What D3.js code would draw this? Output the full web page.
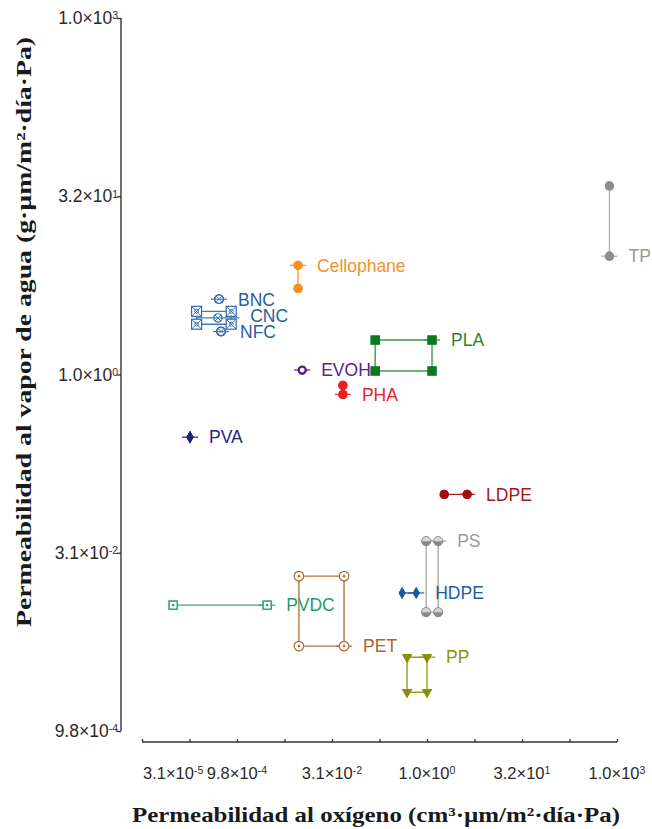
<!DOCTYPE html>
<meta charset="utf-8">
<style>
body { margin: 0; background: #fff; }
svg { display: block; }
.tick-label { font-family: "Liberation Sans", Arial, sans-serif; font-size: 17.5px; fill: #2a2a2a; }
.tick-label.xt { font-size: 16.5px; }
.axis-title { font-family: "Liberation Serif", "DejaVu Serif", serif; font-weight: bold; font-size: 22px; fill: #1a1a1a; }
.mat-label { font-family: "Liberation Sans", Arial, sans-serif; font-size: 17.5px; }
</style>
<body>
<div id="chart"></div>
<script src="https://cdn.jsdelivr.net/npm/d3@7"></script>
<script>

// materials and their ranges (oxygen permeability on x, water vapour on y)
var materials  = ["TPS", "Cellophane", "BNC", "CNC", "NFC", "EVOH", "PHA", "PLA", "PVA", "LDPE", "PS", "HDPE", "PVDC", "PET", "PP"];
var oxygenLow  = [760, 0.0092, 5.2e-4, 2.3e-4, 5.6e-4, 0.0107, 0.047, 0.152, 1.81e-4, 1.87, 0.97, 0.405, 9.8e-5, 0.0095, 0.485];
var oxygenHigh = [760, 0.0092, 5.2e-4, 8.1e-4, 5.6e-4, 0.0107, 0.047, 1.2, 1.81e-4, 4.3, 1.5, 0.675, 2.99e-3, 0.049, 1.0];
var waterLow   = [9.9, 5.3, 4.3, 2.65, 2.3, 1.09, 0.68, 1.07, 0.297, 0.098, 0.010, 0.0145, 0.01146, 0.00518, 0.00212];
var waterHigh  = [38.6, 8.3, 4.3, 3.4, 2.3, 1.09, 0.81, 1.95, 0.297, 0.098, 0.0396, 0.0145, 0.01146, 0.0201, 0.00418];

// CNC centre value drawn inside its range box
var cncCentreOxygen = 5.0e-4;
var cncCentreWater = 2.99;

// tick labels
var xTickValues = [3.162e-5, 1e-3, 3.162e-2, 1, 31.62, 1000];
var xTickMant   = ["3.1", "9.8", "3.1", "1.0", "3.2", "1.0"];
var xTickExp    = ["-5", "-4", "-2", "0", "1", "3"];
var yTickValues = [1e-3, 3.162e-2, 1, 31.62, 1000];
var yTickMant   = ["9.8", "3.1", "1.0", "3.2", "1.0"];
var yTickExp    = ["-4", "-2", "0", "1", "3"];

// look of each material
var styles = {
  TPS:        {color: "#8d8d8d", line: "#b0b0b0", marker: "dot",         text: "#9a9a9a", at: "low"},
  Cellophane: {color: "#f5901e", line: "#f5a040", marker: "dot",         text: "#f2922a", at: "high"},
  BNC:        {color: "#2f6aaa", line: "#3f7ab8", marker: "hatchCircle", text: "#275f9f", at: "low"},
  CNC:        {color: "#2f6aaa", line: "#3f7ab8", marker: "hatchSquare", text: "#275f9f", at: "centre"},
  NFC:        {color: "#2f6aaa", line: "#3f7ab8", marker: "hatchCircle", text: "#275f9f", at: "low"},
  EVOH:       {color: "#5a1d92", line: "#6a2da2", marker: "ring",        text: "#5a1d92", at: "low"},
  PHA:        {color: "#ee1c25", line: "#ee3c40", marker: "dot",         text: "#ea2228", at: "low"},
  PLA:        {color: "#0b7a1e", line: "#3c9c4a", marker: "square",      text: "#1d8a2e", at: "high"},
  PVA:        {color: "#1b2378", line: "#2b3388", marker: "diamond",     text: "#1d257e", at: "low"},
  LDPE:       {color: "#a3100f", line: "#a82020", marker: "dot",         text: "#a41818", at: "low"},
  PS:         {color: "#8a8a8a", line: "#aaaaaa", marker: "halfDot",     text: "#9a9a9a", at: "high"},
  HDPE:       {color: "#1d5898", line: "#2d68a8", marker: "diamond",     text: "#1f5c9e", at: "low"},
  PVDC:       {color: "#1f9c6c", line: "#35ab80", marker: "boxDot",      text: "#1f9c6c", at: "low"},
  PET:        {color: "#b2682c", line: "#b8743c", marker: "ringDot",     text: "#ae662c", at: "low"},
  PP:         {color: "#8a8f08", line: "#99a020", marker: "triDown",     text: "#8e9400", at: "high"}
};

var width = 652, height = 829;
var x = d3.scaleLog().domain([3.162e-5, 1000]).range([142, 617]);
var y = d3.scaleLog().domain([1e-3, 1000]).range([731, 18]);

var svg = d3.select("#chart").append("svg")
  .attr("width", width)
  .attr("height", height);

// ---- axes ----
var yAxis = svg.append("g").attr("transform", "translate(121,0)")
  .call(d3.axisLeft(y).tickValues(yTickValues).tickSize(4).tickFormat(""));
var xAxis = svg.append("g").attr("transform", "translate(0,742)")
  .call(d3.axisTop(x).tickValues(d3.range(-4.5, 3.01, 0.75).map(function(e){ return Math.pow(10, e); })).tickSize(3).tickFormat(""));
[yAxis, xAxis].forEach(function(a){
  a.selectAll("path,line").attr("stroke", "#333").attr("stroke-width", 1.3);
  a.select(".domain").attr("d", null);
});
yAxis.append("line").attr("x1", 0).attr("x2", 0).attr("y1", y(1000)).attr("y2", y(1e-3)).attr("stroke", "#333").attr("stroke-width", 1.4);
xAxis.append("line").attr("x1", x(3.162e-5)).attr("x2", x(1000)).attr("y1", 0).attr("y2", 0).attr("stroke", "#333").attr("stroke-width", 1.4);

function sciLabel(sel, mant, exp) {
  sel.append("tspan").text(mant + "\u00d710");
  sel.append("tspan").attr("dy", "-0.45em").attr("font-size", "10.5px").text(exp);
}

yTickValues.forEach(function(v, i){
  var t = svg.append("text").attr("class", "tick-label")
    .attr("x", 118).attr("y", y(v) + 6).attr("text-anchor", "end");
  sciLabel(t, yTickMant[i], yTickExp[i]);
});
xTickValues.forEach(function(v, i){
  var t = svg.append("text").attr("class", "tick-label xt")
    .attr("x", i === 0 ? x(v) + 1 : x(v)).attr("y", 779)
    .attr("text-anchor", i === 0 ? "start" : "middle");
  sciLabel(t, xTickMant[i], xTickExp[i]);
});

svg.append("text").attr("class", "axis-title")
  .attr("x", 376).attr("y", 822).attr("text-anchor", "middle")
  .attr("textLength", 488).attr("lengthAdjust", "spacingAndGlyphs")
  .text("Permeabilidad al oxígeno (cm³·µm/m²·día·Pa)");
svg.append("text").attr("class", "axis-title")
  .attr("transform", "translate(31,332) rotate(-90)")
  .attr("text-anchor", "middle")
  .attr("textLength", 590).attr("lengthAdjust", "spacingAndGlyphs")
  .text("Permeabilidad al vapor de agua (g·µm/m²·día·Pa)");

// ---- markers ----
function drawMarker(g, type, c) {
  if (type === "dot") {
    g.append("circle").attr("r", 4.6).attr("fill", c);
  } else if (type === "ring") {
    g.append("circle").attr("r", 3.4).attr("fill", "#fff").attr("stroke", c).attr("stroke-width", 2);
  } else if (type === "square") {
    g.append("rect").attr("x", -4.8).attr("y", -4.8).attr("width", 9.6).attr("height", 9.6).attr("fill", c);
  } else if (type === "diamond") {
    g.append("path").attr("d", d3.symbol(d3.symbolDiamond, 42)()).attr("fill", c);
  } else if (type === "triDown") {
    g.append("path").attr("d", d3.symbol(d3.symbolTriangle, 50)()).attr("transform", "rotate(180)").attr("fill", c);
  } else if (type === "halfDot") {
    g.append("circle").attr("r", 4.6).attr("fill", "#d6d6d6").attr("stroke", c).attr("stroke-width", 1);
    g.append("path").attr("d", "M-4.6,0A4.6,4.6 0 0 0 4.6,0Z").attr("fill", c);
  } else if (type === "hatchCircle") {
    g.append("circle").attr("r", 4.2).attr("fill", "#fff").attr("stroke", c).attr("stroke-width", 1.2);
    g.append("path").attr("d", "M-3,-3L3,3M-3,3L3,-3M-4,0L4,0").attr("stroke", c).attr("stroke-width", 0.9);
  } else if (type === "hatchSquare") {
    g.append("rect").attr("x", -5).attr("y", -5).attr("width", 10).attr("height", 10)
      .attr("fill", "#fff").attr("stroke", c).attr("stroke-width", 1.2);
    g.append("path").attr("d", "M-5,-5L5,5M-5,5L5,-5").attr("stroke", c).attr("stroke-width", 0.9);
    g.append("circle").attr("r", 2).attr("fill", "none").attr("stroke", c).attr("stroke-width", 0.8);
  } else if (type === "boxDot") {
    g.append("rect").attr("x", -4).attr("y", -4).attr("width", 8).attr("height", 8)
      .attr("fill", "#fff").attr("stroke", c).attr("stroke-width", 1.2);
    g.append("circle").attr("r", 1.2).attr("fill", c);
  } else if (type === "ringDot") {
    g.append("circle").attr("r", 4.8).attr("fill", "#fff").attr("stroke", c).attr("stroke-width", 1.2);
    g.append("circle").attr("r", 1.3).attr("fill", c);
  }
}

var plot = svg.append("g");

materials.forEach(function(m, i){
  var s = styles[m];
  var x0 = x(oxygenLow[i]), x1 = x(oxygenHigh[i]);
  var y0 = y(waterLow[i]), y1 = y(waterHigh[i]);
  var g = plot.append("g").attr("class", "material");

  // range outline (collapses to a line when one dimension is a single value)
  g.append("path")
    .attr("d", "M" + x0 + "," + y0 + "L" + x1 + "," + y0 + "L" + x1 + "," + y1 + "L" + x0 + "," + y1 + "Z")
    .attr("fill", "none").attr("stroke", s.line).attr("stroke-width", 1.4);

  var ly = s.at === "high" ? y1 : (s.at === "centre" ? (y0 + y1) / 2 : y0);

  // small error whisker at the labelled point
  if (m !== "CNC") {
    g.append("line").attr("x1", x1 - 8).attr("x2", x1 + 8).attr("y1", ly).attr("y2", ly)
      .attr("stroke", s.line).attr("stroke-width", 1.3);
  }

  var pts = [[x0, y0], [x1, y0], [x0, y1], [x1, y1]];
  pts.forEach(function(p){
    drawMarker(g.append("g").attr("transform", "translate(" + p[0] + "," + p[1] + ")"), s.marker, s.color);
  });

  if (m === "CNC") {
    var cx = x(cncCentreOxygen), cy = y(cncCentreWater);
    g.append("line").attr("x1", x0).attr("x2", x1 + 8).attr("y1", cy).attr("y2", cy)
      .attr("stroke", s.line).attr("stroke-width", 1.3);
    drawMarker(g.append("g").attr("transform", "translate(" + cx + "," + cy + ")"), "hatchCircle", s.color);
  }

  g.append("text").attr("class", "mat-label")
    .attr("x", x1 + 19).attr("y", ly - (m === "CNC" ? 2 : 0)).attr("dy", "0.36em")
    .attr("fill", s.text)
    .text(m);
});

</script>
</body>
